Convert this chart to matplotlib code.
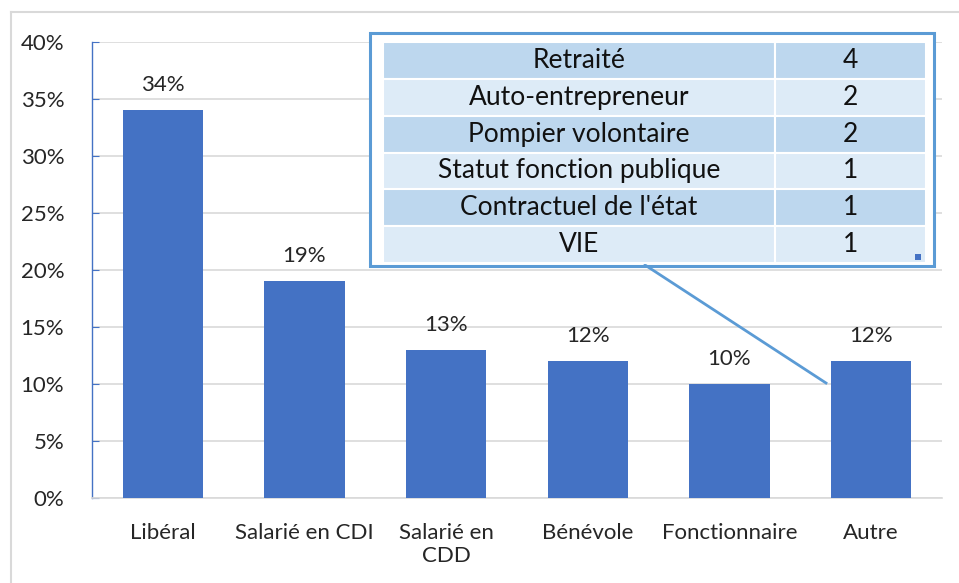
import matplotlib.pyplot as plt
from matplotlib.patches import Rectangle
from matplotlib.lines import Line2D
from matplotlib.ticker import PercentFormatter

plt.rcParams['font.family'] = ['Lato', 'DejaVu Sans']

# données du graphique
categories = ['Libéral', 'Salarié en CDI', 'Salarié en\nCDD', 'Bénévole', 'Fonctionnaire', 'Autre']
valeurs = [34, 19, 13, 12, 10, 12]
yticks = [0, 5, 10, 15, 20, 25, 30, 35, 40]

# détail de "Autre"
autre_labels = ['Retraité', 'Auto-entrepreneur', 'Pompier volontaire',
                'Statut fonction publique', "Contractuel de l'état", 'VIE']
autre_counts = [4, 2, 2, 1, 1, 1]

W, H = 959, 583
FS = 16
fig = plt.figure(figsize=(W / 100, H / 100), dpi=100)

def fx(px): return px / W
def fy(py): return 1 - py / H

# cadre gris du graphique
fig.add_artist(Line2D([fx(11), fx(959)], [fy(12), fy(12)], color='#D9D9D9', lw=1.5))
fig.add_artist(Line2D([fx(11), fx(11)], [fy(12), fy(583)], color='#D9D9D9', lw=1.5))

ax = fig.add_axes([fx(92), fy(498), fx(942) - fx(92), fy(42) - fy(498)])
x = range(len(categories))
bars = ax.bar(x, valeurs, width=0.565, color='#4472C4', zorder=3)
ax.set_xlim(-0.5, len(categories) - 0.5)
ax.set_ylim(0, 40)
ax.set_yticks(yticks)
ax.yaxis.set_major_formatter(PercentFormatter(decimals=0))
ax.set_xticks(list(x))
ax.set_xticklabels(categories, fontsize=FS, color='#262626', linespacing=1.2)
ax.grid(axis='y', color='#D9D9D9', lw=1.2, zorder=0)
ax.tick_params(axis='x', length=0, pad=18)
ax.tick_params(axis='y', direction='in', length=5, color='#4472C4', labelsize=FS,
               labelcolor='#262626', pad=20)
for s in ['top', 'right']:
    ax.spines[s].set_visible(False)
ax.spines['left'].set_color('#4472C4')
ax.spines['left'].set_linewidth(1)
ax.spines['bottom'].set_color('#D9D9D9')
ax.spines['bottom'].set_linewidth(1.2)

for b, v in zip(bars, valeurs):
    ax.annotate(f'{v}%', (b.get_x() + b.get_width() / 2, v), xytext=(0, 18),
                textcoords='offset points', ha='center', va='center',
                fontsize=FS, color='#262626')

# trait de liaison vers "Autre"
fig.add_artist(Line2D([fx(645), fx(826)], [fy(265), fy(383)], color='#5B9BD5', lw=2))

# tableau
fig.add_artist(Rectangle((fx(370), fy(266)), fx(934) - fx(370), fy(33) - fy(266),
                         facecolor='white', edgecolor='#5B9BD5', lw=2.2, zorder=1))
tab_ax = fig.add_axes([fx(383), fy(263), fx(926) - fx(383), fy(42) - fy(263)])
tab_ax.set_zorder(5)
tab_ax.axis('off')
cells = [[l, str(c)] for l, c in zip(autre_labels, autre_counts)]
tbl = tab_ax.table(cellText=cells, colWidths=[392, 151], bbox=[0, 0, 1, 1], cellLoc='center')
tbl.auto_set_font_size(False)
for (r, c), cell in tbl.get_celld().items():
    cell.set_facecolor('#BDD7EE' if r % 2 == 0 else '#DDEBF7')
    cell.set_edgecolor('white')
    cell.set_linewidth(1.5)
    cell.get_text().set_fontsize(19)
    cell.get_text().set_color('#111111')
fig.add_artist(Rectangle((fx(915), fy(260)), fx(6), fy(0) - fy(6),
                         facecolor='#4472C4', edgecolor='none', zorder=10))

fig.savefig('out.png', dpi=100)
